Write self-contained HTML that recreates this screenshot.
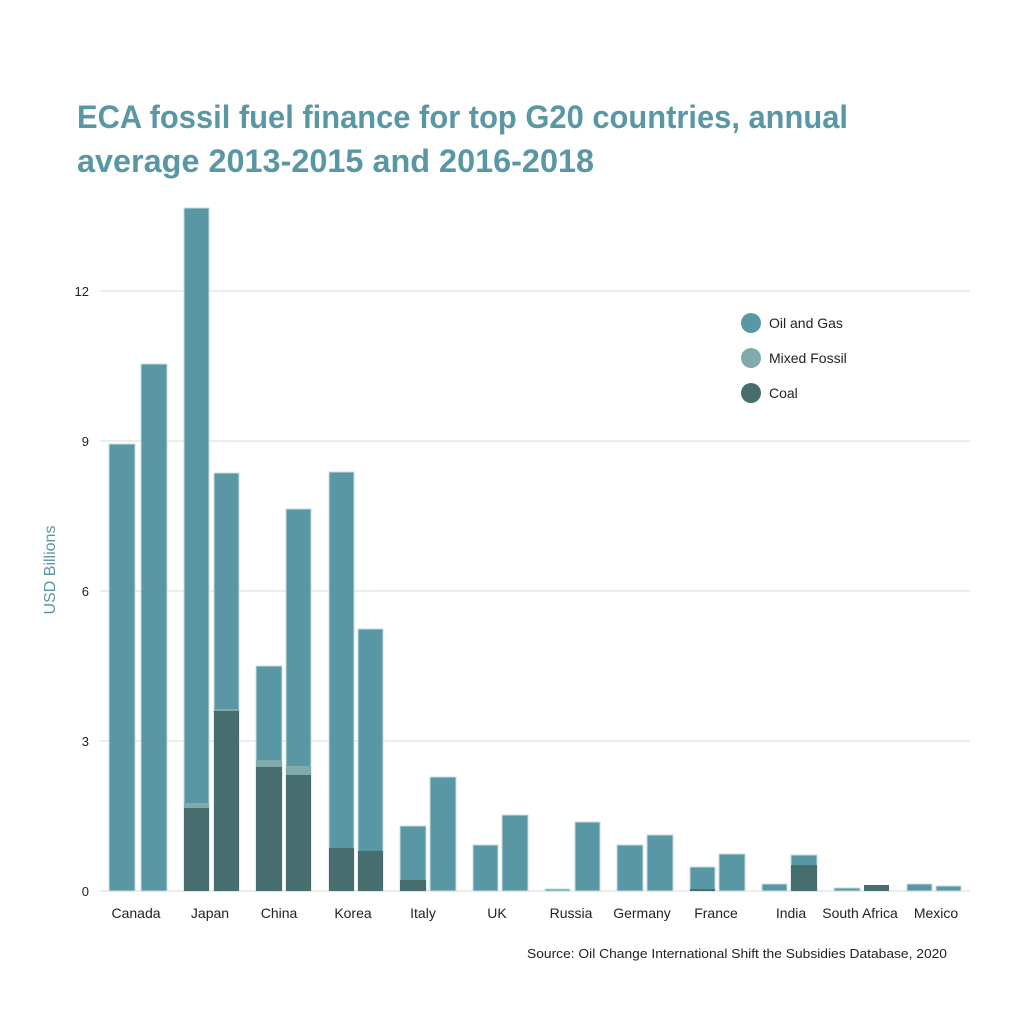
<!DOCTYPE html>
<html><head><meta charset="utf-8"><style>
html,body{margin:0;padding:0;background:#fff}
svg{display:block}
text{font-family:"Liberation Sans",sans-serif}
</style></head><body>
<svg width="1024" height="1024" viewBox="0 0 1024 1024" xmlns="http://www.w3.org/2000/svg">
<rect width="1024" height="1024" fill="#fff"/>
<text x="77" y="128" font-size="32" font-weight="bold" fill="#5a97a4" textLength="771" lengthAdjust="spacingAndGlyphs">ECA fossil fuel finance for top G20 countries, annual</text>
<text x="77" y="172" font-size="32" font-weight="bold" fill="#5a97a4" textLength="517" lengthAdjust="spacingAndGlyphs">average 2013-2015 and 2016-2018</text>
<g stroke="#e6e6e6" stroke-width="1.5">
<line x1="100" y1="291" x2="970" y2="291"/>
<line x1="100" y1="441" x2="970" y2="441"/>
<line x1="100" y1="591" x2="970" y2="591"/>
<line x1="100" y1="741" x2="970" y2="741"/>
<line x1="100" y1="891" x2="970" y2="891"/>
</g>
<g font-size="13" fill="#222" text-anchor="end">
<text x="89" y="296">12</text><text x="89" y="446">9</text><text x="89" y="596">6</text><text x="89" y="746">3</text><text x="89" y="896">0</text>
</g>
<text transform="translate(55,570) rotate(-90)" font-size="16" fill="#5a97a4" text-anchor="middle">USD Billions</text>
<g stroke="#c7dde1" stroke-width="1">
<g fill="#5a97a4">
<rect x="109" y="444" width="26" height="447"/><rect x="141" y="364" width="26" height="527"/>
<rect x="184" y="208" width="25" height="683"/><rect x="214" y="473" width="25" height="418"/>
<rect x="256" y="666" width="26" height="225"/><rect x="286" y="509" width="25" height="382"/>
<rect x="329" y="472" width="25" height="419"/><rect x="358" y="629" width="25" height="262"/>
<rect x="400" y="826" width="26" height="65"/><rect x="430" y="777" width="26" height="114"/>
<rect x="473" y="845" width="25" height="46"/><rect x="502" y="815" width="26" height="76"/>
<rect x="545" y="889" width="25" height="2"/><rect x="575" y="822" width="25" height="69"/>
<rect x="617" y="845" width="26" height="46"/><rect x="647" y="835" width="26" height="56"/>
<rect x="690" y="867" width="25" height="24"/><rect x="719" y="854" width="26" height="37"/>
<rect x="762" y="884" width="25" height="7"/><rect x="791" y="855" width="26" height="36"/>
<rect x="834" y="888" width="26" height="3"/>
<rect x="907" y="884" width="25" height="7"/><rect x="936" y="886" width="25" height="5"/>
</g>
</g>
<g fill="#80aaab">
<rect x="184" y="803" width="25" height="88"/><rect x="214" y="709" width="25" height="182"/>
<rect x="256" y="760" width="26" height="131"/><rect x="286" y="766" width="25" height="125"/>
</g>
<g fill="#476d6f">
<rect x="184" y="808" width="25" height="83"/><rect x="214" y="711" width="25" height="180"/>
<rect x="256" y="767" width="26" height="124"/><rect x="286" y="775" width="25" height="116"/>
<rect x="329" y="848" width="25" height="43"/><rect x="358" y="851" width="25" height="40"/>
<rect x="400" y="880" width="26" height="11"/>
<rect x="690" y="889" width="25" height="2"/>
<rect x="791" y="865" width="26" height="26"/>
<rect x="864" y="885" width="25" height="6"/>
</g>
<g font-size="14" fill="#222" text-anchor="middle">
<text x="136" y="918">Canada</text><text x="210" y="918">Japan</text><text x="279" y="918">China</text>
<text x="353" y="918">Korea</text><text x="423" y="918">Italy</text><text x="497" y="918">UK</text>
<text x="571" y="918">Russia</text><text x="642" y="918">Germany</text><text x="716" y="918">France</text>
<text x="791" y="918">India</text><text x="860" y="918">South Africa</text><text x="936" y="918">Mexico</text>
</g>
<circle cx="751" cy="323" r="10" fill="#5a97a4"/>
<circle cx="751" cy="358" r="10" fill="#80aaab"/>
<circle cx="751" cy="393" r="10" fill="#476d6f"/>
<g font-size="14" fill="#222">
<text x="769" y="328">Oil and Gas</text><text x="769" y="363">Mixed Fossil</text><text x="769" y="398">Coal</text>
</g>
<text x="527" y="958" font-size="12.5" fill="#222" textLength="420" lengthAdjust="spacingAndGlyphs">Source: Oil Change International Shift the Subsidies Database, 2020</text>
</svg>
</body></html>
